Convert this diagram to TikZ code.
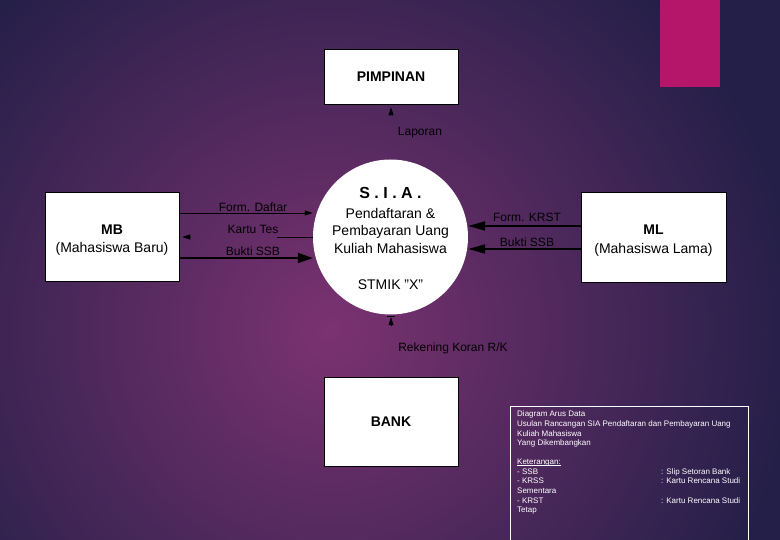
\documentclass[tikz,border=0pt]{standalone}
\usepackage{fontspec}
\setmainfont{Liberation Sans}
\usetikzlibrary{arrows.meta}
\definecolor{bgin}{HTML}{7B3271}
\definecolor{bgout}{HTML}{231F48}
\definecolor{accent}{HTML}{B5166A}
\begin{document}
\begin{tikzpicture}[x=1pt,y=-1pt,
  entity/.style={draw=black, line width=0.6pt, fill=white, inner sep=0pt, align=center},
  lbl/.style={inner sep=0pt, font=\fontsize{12}{14}\selectfont, text=black},
  ctext/.style={inner sep=0pt, font=\fontsize{14}{16}\selectfont, text=black},
  thinflow/.style={line width=0.8pt, -{Triangle[length=8pt,width=5pt]}},
  thickflow/.style={line width=2pt, -{Triangle[length=15pt,width=10pt]}},
  hidflow/.style={black, line width=0.6pt, -{Triangle[length=8pt,width=5pt]}},
  legtxt/.style={anchor=west, inner sep=0pt, text height=6pt, text depth=2pt, text=white, font=\fontsize{8}{9}\selectfont},
]
\useasboundingbox (0,0) rectangle (780,540);
\clip (0,0) rectangle (780,540);
\fill[bgout] (0,0) rectangle (780,540);
\shade[inner color=bgin, outer color=bgout] (330,330) circle (470pt);
\fill[accent] (660,0) rectangle (720,87);

% entities
\node[entity, minimum width=134pt, minimum height=55pt, font=\fontsize{14}{16}\selectfont\bfseries] (pim) at (391,76.5) {PIMPINAN};
\node[entity, minimum width=134pt, minimum height=89pt, font=\fontsize{14}{16}\selectfont\bfseries] (bank) at (391,421.5) {BANK};
\node[entity, minimum width=134pt, minimum height=89pt, font=\fontsize{14}{18}\selectfont] (mb) at (112,236.5) {\rule{0pt}{16pt}\textbf{MB}\\(Mahasiswa Baru)};
\node[entity, minimum width=145pt, minimum height=90pt, font=\fontsize{14}{19}\selectfont] (ml) at (653.5,237) {\rule{0pt}{16pt}\textbf{ML}\\(Mahasiswa Lama)};

% process
\node[circle, fill=white, minimum size=155pt, inner sep=0pt] (sia) at (390.5,237) {};
\node[ctext, font=\fontsize{16}{18}\selectfont\bfseries] (siaA) at (390.5,193) {S . I . A .};
\node[ctext] (siaB) at (390.5,213) {Pendaftaran \&};
\node[ctext] (siaC) at (390.5,231.5) {Pembayaran Uang};
\node[ctext] (siaD) at (390.5,248.5) {Kuliah Mahasiswa};
\node[ctext] (siaE) at (390.5,285) {STMIK \symbol{34}X\symbol{34}};

% flows
\draw[thinflow] (mb.east |- 0,213) -- (sia.west |- 0,213);
\draw[thinflow, dash pattern=on 36pt off 300pt, shorten >=3pt] (sia.west |- 0,237) -- (mb.east |- 0,237);
\draw[thickflow] (mb.east |- 0,258) -- (sia.west |- 0,258);
\draw[line width=2pt, -{Triangle[length=17pt,width=9pt]}] (ml.west |- 0,226) -- (sia.east |- 0,226);
\draw[line width=2pt, -{Triangle[length=17pt,width=9pt]}] (ml.west |- 0,249) -- (sia.east |- 0,249);
\draw[hidflow, shorten >=3pt, shorten <=45pt] (sia.north -| pim.south) -- (pim.south);
\draw[hidflow, shorten >=2.5pt, shorten <=52pt] (bank.north) -- (bank.north |- sia.south);
\draw[black, line width=1pt] ([shift={(-4,1.5)}]bank.north |- sia.south) -- ([shift={(4,1.5)}]bank.north |- sia.south);

% flow labels
\node[lbl] (l1) at (253,207) {Form. Daftar};
\node[lbl] (l2) at (253,229) {Kartu Tes};
\node[lbl] (l3) at (253,251) {Bukti SSB};
\node[lbl] (l4) at (527,217) {Form. KRST};
\node[lbl] (l5) at (527,242) {Bukti SSB};
\node[lbl] (l6) at (420,133) {Laporan};
\node[lbl] (l7) at (453,348) {Rekening Koran R/K};

% legend
\node[draw=white, line width=0.8pt, anchor=north west, minimum width=238pt, minimum height=145pt, inner sep=0pt] (leg) at (510,406) {};
\node[legtxt] (t1) at (517,415) {Diagram Arus Data};
\node[legtxt] (t2) at (517,424.5) {Usulan Rancangan SIA Pendaftaran dan Pembayaran Uang};
\node[legtxt] (t3) at (517,434) {Kuliah Mahasiswa};
\node[legtxt] (t4) at (517,443.5) {Yang Dikembangkan};
\node[legtxt] (t5) at (517,462) {Keterangan:};
\draw[white, line width=0.5pt] ([yshift=-1.5pt]t5.base west) -- ([yshift=-1.5pt]t5.base east);
\node[legtxt] (t6) at (517,472) {- SSB};
\node[legtxt] (t7) at (517,481.5) {- KRSS};
\node[legtxt] (t8) at (517,491) {Sementara};
\node[legtxt] (t9) at (517,501) {- KRST};
\node[legtxt] (t10) at (517,510.5) {Tetap};
\node[legtxt] (r1) at (661,472) {: Slip Setoran Bank};
\node[legtxt] (r2) at (661,481.5) {: Kartu Rencana Studi};
\node[legtxt] (r3) at (661,501) {: Kartu Rencana Studi};
\end{tikzpicture}
\end{document}
